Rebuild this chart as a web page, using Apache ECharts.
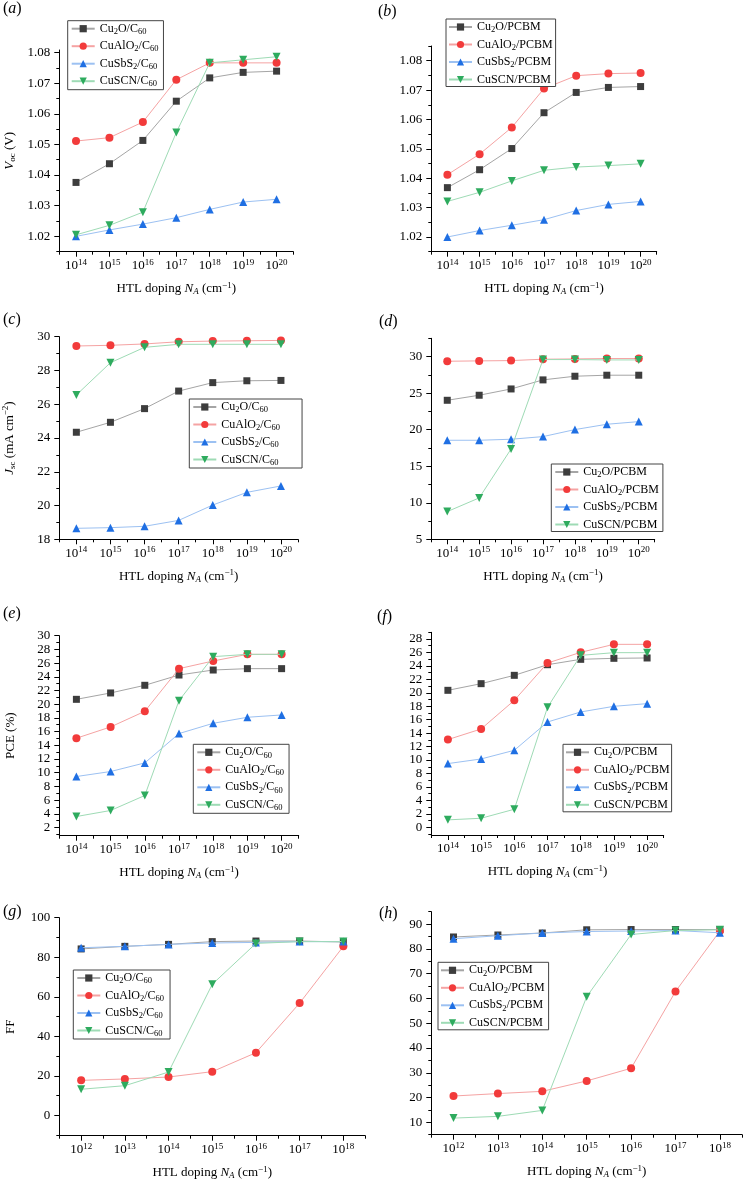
<!DOCTYPE html>
<html><head><meta charset="utf-8">
<script src="https://cdn.jsdelivr.net/npm/echarts@6/dist/echarts.min.js"></script>
<style>html,body{margin:0;padding:0;background:#fff}#c{width:743px;height:1182px}</style>
</head><body><div id="c"></div>
<script>
// ---------- DATA ----------
const dopingExpHigh = [14, 15, 16, 17, 18, 19, 20];
const dopingExpLow = [12, 13, 14, 15, 16, 17, 18];

const namesC60 = ['Cu2O/C60', 'CuAlO2/C60', 'CuSbS2/C60', 'CuSCN/C60'];
const namesPCBM = ['Cu2O/PCBM', 'CuAlO2/PCBM', 'CuSbS2/PCBM', 'CuSCN/PCBM'];

// (a) Voc, C60
const vocC60Cu2O   = [1.0376, 1.0437, 1.0513, 1.0641, 1.0717, 1.0735, 1.0739];
const vocC60CuAlO2 = [1.0511, 1.0522, 1.0573, 1.0711, 1.0766, 1.0766, 1.0766];
const vocC60CuSbS2 = [1.0200, 1.0221, 1.0240, 1.0261, 1.0288, 1.0312, 1.0321];
const vocC60CuSCN  = [1.0205, 1.0236, 1.0279, 1.0539, 1.0766, 1.0776, 1.0786];
// (b) Voc, PCBM
const vocPCBMCu2O   = [1.0368, 1.0429, 1.0501, 1.0623, 1.0692, 1.0709, 1.0712];
const vocPCBMCuAlO2 = [1.0412, 1.0482, 1.0573, 1.0705, 1.0749, 1.0756, 1.0758];
const vocPCBMCuSbS2 = [1.0200, 1.0222, 1.0240, 1.0259, 1.0290, 1.0311, 1.0321];
const vocPCBMCuSCN  = [1.0321, 1.0352, 1.0391, 1.0427, 1.0438, 1.0443, 1.0449];
// (c) Jsc, C60
const jscC60Cu2O   = [24.34, 24.93, 25.74, 26.78, 27.28, 27.39, 27.41];
const jscC60CuAlO2 = [29.45, 29.49, 29.57, 29.70, 29.74, 29.76, 29.78];
const jscC60CuSbS2 = [18.65, 18.69, 18.77, 19.12, 20.03, 20.78, 21.16];
const jscC60CuSCN  = [26.55, 28.46, 29.37, 29.55, 29.55, 29.55, 29.55];
// (d) Jsc, PCBM
const jscPCBMCu2O   = [24.02, 24.71, 25.57, 26.81, 27.31, 27.45, 27.45];
const jscPCBMCuAlO2 = [29.36, 29.41, 29.45, 29.64, 29.68, 29.73, 29.73];
const jscPCBMCuSbS2 = [18.55, 18.55, 18.69, 19.05, 20.01, 20.74, 21.10];
const jscPCBMCuSCN  = [8.79, 10.66, 17.36, 29.59, 29.59, 29.54, 29.54];
// (e) PCE, C60
const pceC60Cu2O   = [20.71, 21.64, 22.76, 24.26, 24.99, 25.19, 25.19];
const pceC60CuAlO2 = [15.03, 16.68, 18.96, 25.19, 26.31, 27.28, 27.28];
const pceC60CuSbS2 = [9.44, 10.17, 11.43, 15.71, 17.21, 18.09, 18.43];
const pceC60CuSCN  = [3.60, 4.48, 6.67, 20.52, 26.94, 27.28, 27.28];
// (f) PCE, PCBM
const pcePCBMCu2O   = [20.37, 21.36, 22.60, 24.18, 24.98, 25.13, 25.18];
const pcePCBMCuAlO2 = [13.04, 14.62, 18.88, 24.43, 26.02, 27.21, 27.21];
const pcePCBMCuSbS2 = [9.47, 10.16, 11.45, 15.66, 17.15, 17.99, 18.39];
const pcePCBMCuSCN  = [1.10, 1.34, 2.68, 17.84, 25.57, 25.97, 25.97];
// (g) FF, C60
const ffC60Cu2O   = [84.2, 85.5, 86.5, 87.9, 88.2, 88.2, 87.7];
const ffC60CuAlO2 = [17.7, 18.4, 19.4, 22.1, 31.7, 56.8, 85.5];
const ffC60CuSbS2 = [84.8, 85.5, 86.5, 87.2, 87.5, 87.9, 87.9];
const ffC60CuSCN  = [13.2, 15.0, 21.9, 66.3, 87.0, 87.9, 87.9];
// (h) FF, PCBM
const ffPCBMCu2O   = [84.8, 85.6, 86.4, 87.7, 87.8, 87.8, 87.8];
const ffPCBMCuAlO2 = [20.6, 21.6, 22.5, 26.7, 31.8, 62.8, 87.2];
const ffPCBMCuSbS2 = [84.1, 85.3, 86.4, 87.0, 87.2, 87.4, 86.5];
const ffPCBMCuSCN  = [11.7, 12.4, 14.8, 60.7, 85.8, 87.4, 87.7];

// tick values
const vocMajorTicks = [1.02, 1.03, 1.04, 1.05, 1.06, 1.07, 1.08];
const vocMinorTicksA = [1.015, 1.025, 1.035, 1.045, 1.055, 1.065, 1.075];
const vocMinorTicksB = [1.015, 1.025, 1.035, 1.045, 1.055, 1.065, 1.075, 1.085];
const jscMajorTicksC = [18, 20, 22, 24, 26, 28, 30];
const jscMinorTicksC = [19, 21, 23, 25, 27, 29];
const jscMajorTicksD = [5, 10, 15, 20, 25, 30];
const jscMinorTicksD = [7.5, 12.5, 17.5, 22.5, 27.5, 32.5];
const pceMajorTicksE = [2, 4, 6, 8, 10, 12, 14, 16, 18, 20, 22, 24, 26, 28, 30];
const pceMinorTicksE = [1, 3, 5, 7, 9, 11, 13, 15, 17, 19, 21, 23, 25, 27, 29];
const pceMajorTicksF = [0, 2, 4, 6, 8, 10, 12, 14, 16, 18, 20, 22, 24, 26, 28];
const pceMinorTicksF = [-1, 1, 3, 5, 7, 9, 11, 13, 15, 17, 19, 21, 23, 25, 27, 29];
const ffMajorTicksG = [0, 20, 40, 60, 80, 100];
const ffMinorTicksG = [-10, 10, 30, 50, 70, 90];
const ffMajorTicksH = [10, 20, 30, 40, 50, 60, 70, 80, 90];
const ffMinorTicksH = [5, 15, 25, 35, 45, 55, 65, 75, 85, 95];

// ---------- STYLE ----------
const FONT = 'Liberation Serif';
const seriesStyles = [
  {symbol: 'rect', size: 7, rotate: 0, mark: '#3d3d3d', line: '#a5a5a5'},
  {symbol: 'circle', size: 8, rotate: 0, mark: '#f23b3b', line: '#f5a3a3'},
  {symbol: 'triangle', size: 8, rotate: 0, mark: '#1f6fe3', line: '#9cc1f2'},
  {symbol: 'triangle', size: 8, rotate: 180, mark: '#2eab5e', line: '#9edbb5'}
];
const rich = {
  sup: {fontSize: 9, fontFamily: FONT, color: '#000', padding: [0, 0, 7, 0]},
  sub: {fontSize: 9, fontFamily: FONT, color: '#000', padding: [6, 0, 0, 0]},
  i: {fontSize: 13, fontFamily: FONT, color: '#000', fontStyle: 'italic'},
  isub: {fontSize: 9, fontFamily: FONT, color: '#000', fontStyle: 'italic', padding: [6, 0, 0, 0]}
};
const legendRich = {
  sub: {fontSize: 8.5, fontFamily: FONT, color: '#000', padding: [6, 0, 0, 0]}
};
const legendText = {
  'Cu2O/C60': 'Cu{sub|2}O/C{sub|60}',
  'CuAlO2/C60': 'CuAlO{sub|2}/C{sub|60}',
  'CuSbS2/C60': 'CuSbS{sub|2}/C{sub|60}',
  'CuSCN/C60': 'CuSCN/C{sub|60}',
  'Cu2O/PCBM': 'Cu{sub|2}O/PCBM',
  'CuAlO2/PCBM': 'CuAlO{sub|2}/PCBM',
  'CuSbS2/PCBM': 'CuSbS{sub|2}/PCBM',
  'CuSCN/PCBM': 'CuSCN/PCBM'
};
const xName = 'HTL doping {i|N}{isub|A} (cm{sup|\u22121})';

const panels = [
  {tag: 'a', grid: [59.3, 50, 234, 201.7], x: dopingExpHigh, yMin: 1.015, yMax: 1.0808, major: vocMajorTicks, minor: vocMinorTicksA, dec: 2,
   data: [vocC60Cu2O, vocC60CuAlO2, vocC60CuSbS2, vocC60CuSCN], names: namesC60,
   legend: {left: 67.7, top: 20.7, padding: [2, 5, 1, 3]}, yName: '{i|V}{sub|oc} (V)', label: [3, 1]},
  {tag: 'b', grid: [431.3, 46, 225.4, 205.7], x: dopingExpHigh, yMin: 1.015, yMax: 1.085, major: vocMajorTicks, minor: vocMinorTicksB, dec: 2,
   data: [vocPCBMCu2O, vocPCBMCuAlO2, vocPCBMCuSbS2, vocPCBMCuSCN], names: namesPCBM,
   legend: {left: 446, top: 19, padding: [2, 3, 1, 2]}, yName: '', label: [378, 4]},
  {tag: 'c', grid: [59.3, 336.7, 238.7, 202.6], x: dopingExpHigh, yMin: 18, yMax: 30, major: jscMajorTicksC, minor: jscMinorTicksC, dec: 0,
   data: [jscC60Cu2O, jscC60CuAlO2, jscC60CuSbS2, jscC60CuSCN], names: namesC60,
   legend: {left: 189.3, top: 399, padding: [2, 22, 1, 3]}, yName: '{i|J}{sub|sc} (mA cm{sup|\u22122})', label: [3, 312]},
  {tag: 'd', grid: [431.3, 338.3, 223.4, 201], x: dopingExpHigh, yMin: 5, yMax: 32.5, major: jscMajorTicksD, minor: jscMinorTicksD, dec: 0,
   data: [jscPCBMCu2O, jscPCBMCuAlO2, jscPCBMCuSbS2, jscPCBMCuSCN], names: namesPCBM,
   legend: {left: 551.3, top: 464, padding: [2, 4, 1, 3]}, yName: '', label: [379, 314]},
  {tag: 'e', grid: [59.3, 635.7, 239.4, 200], x: dopingExpHigh, yMin: 0.8, yMax: 30, major: pceMajorTicksE, minor: pceMinorTicksE, dec: 0,
   data: [pceC60Cu2O, pceC60CuAlO2, pceC60CuSbS2, pceC60CuSCN], names: namesC60,
   legend: {left: 193.3, top: 744.3, padding: [2, 5, 1, 3]}, yName: 'PCE (%)', label: [3, 606]},
  {tag: 'f', grid: [431.3, 632.3, 232.4, 202.7], x: dopingExpHigh, yMin: -1.15, yMax: 29, major: pceMajorTicksF, minor: pceMinorTicksF, dec: 0,
   data: [pcePCBMCu2O, pcePCBMCuAlO2, pcePCBMCuSbS2, pcePCBMCuSCN], names: namesPCBM,
   legend: {left: 563, top: 744.3, padding: [2, 2, 1, 2]}, yName: '', label: [377, 609]},
  {tag: 'g', grid: [59.3, 917.7, 305.9, 218], x: dopingExpLow, yMin: -10.3, yMax: 100, major: ffMajorTicksG, minor: ffMinorTicksG, dec: 0,
   data: [ffC60Cu2O, ffC60CuAlO2, ffC60CuSbS2, ffC60CuSCN], names: namesC60,
   legend: {left: 73.3, top: 970, padding: [2, 6, 1, 3]}, yName: 'FF', label: [3, 904]},
  {tag: 'h', grid: [431.3, 911.7, 310.8, 223], x: dopingExpLow, yMin: 5, yMax: 95, major: ffMajorTicksH, minor: ffMinorTicksH, dec: 0,
   data: [ffPCBMCu2O, ffPCBMCuAlO2, ffPCBMCuSbS2, ffPCBMCuSCN], names: namesPCBM,
   legend: {left: 438, top: 962.3, padding: [2, 4, 1, 2]}, yName: '', label: [379, 906]}
];

const option = {animation: false, backgroundColor: '#fff', grid: [], xAxis: [], yAxis: [], series: [], legend: [], graphic: []};
const black = {color: '#000', width: 1};

panels.forEach((p, i) => {
  const [gl, gt, gw, gh] = p.grid;
  option.grid.push({left: gl, top: gt, width: gw, height: gh, containLabel: false});
  const xMin = p.x[0] - 0.5, xMax = p.x[p.x.length - 1] + 0.5;
  const xMid = [];
  for (let k = 0; k <= p.x.length; k++) xMid.push(p.x[0] - 0.5 + k);
  option.xAxis.push({
    gridIndex: i, type: 'value', position: 'bottom', min: xMin, max: xMax,
    axisLine: {show: true, onZero: false, lineStyle: black},
    axisTick: {show: true, inside: false, length: 5, customValues: p.x, lineStyle: black},
    axisLabel: {show: true, customValues: p.x, margin: 6, color: '#000', fontFamily: FONT, fontSize: 13,
      formatter: v => '10{sup|' + v + '}', rich: rich},
    splitLine: {show: false},
    name: xName, nameLocation: 'middle', nameGap: 29,
    nameTextStyle: {fontFamily: FONT, fontSize: 13, color: '#000', rich: rich}
  });
  option.xAxis.push({
    gridIndex: i, type: 'value', position: 'bottom', min: xMin, max: xMax,
    axisLine: {show: false, onZero: false},
    axisTick: {show: true, inside: false, length: 3, customValues: xMid, lineStyle: black},
    axisLabel: {show: false}, splitLine: {show: false}
  });
  option.yAxis.push({
    gridIndex: i, type: 'value', position: 'left', min: p.yMin, max: p.yMax,
    axisLine: {show: true, onZero: false, lineStyle: black},
    axisTick: {show: true, inside: false, length: 5, customValues: p.major, lineStyle: black},
    axisLabel: {show: true, customValues: p.major, margin: 9, color: '#000', fontFamily: FONT, fontSize: 13,
      formatter: v => Number(v).toFixed(p.dec)},
    splitLine: {show: false},
    name: p.yName, nameLocation: 'middle', nameGap: 42, nameRotate: 90,
    nameTextStyle: {fontFamily: FONT, fontSize: 13, color: '#000', rich: rich}
  });
  option.yAxis.push({
    gridIndex: i, type: 'value', position: 'left', min: p.yMin, max: p.yMax,
    axisLine: {show: false, onZero: false},
    axisTick: {show: true, inside: false, length: 3, customValues: p.minor, lineStyle: black},
    axisLabel: {show: false}, splitLine: {show: false}
  });
  p.data.forEach((vals, s) => {
    const st = seriesStyles[s];
    option.series.push({
      type: 'line', name: p.names[s], xAxisIndex: 2 * i, yAxisIndex: 2 * i,
      data: p.x.map((e, k) => [e, vals[k]]),
      symbol: st.symbol, symbolSize: st.size, symbolRotate: st.rotate, showSymbol: true,
      lineStyle: {color: st.line, width: 1}, itemStyle: {color: st.mark},
      emphasis: {disabled: true}, z: 2 + s
    });
  });
  option.legend.push({
    show: true, orient: 'vertical', left: p.legend.left, top: p.legend.top, padding: p.legend.padding,
    data: p.names, itemWidth: 23, itemHeight: 9, itemGap: 4,
    borderColor: '#444', borderWidth: 1, backgroundColor: '#fff', borderRadius: 0,
    selectedMode: false,
    textStyle: {fontFamily: FONT, fontSize: 12, color: '#000', rich: legendRich},
    formatter: name => legendText[name]
  });
  option.graphic.push({
    type: 'text', left: p.label[0], top: p.label[1],
    style: {text: '({i|' + p.tag + '})', fontFamily: FONT, fontSize: 16, fill: '#000',
      rich: {i: {fontFamily: FONT, fontSize: 16, fontStyle: 'italic', fill: '#000'}}}
  });
});

const chart = echarts.init(document.getElementById('c'), null, {renderer: 'canvas'});
chart.setOption(option);
</script>
</body></html>
